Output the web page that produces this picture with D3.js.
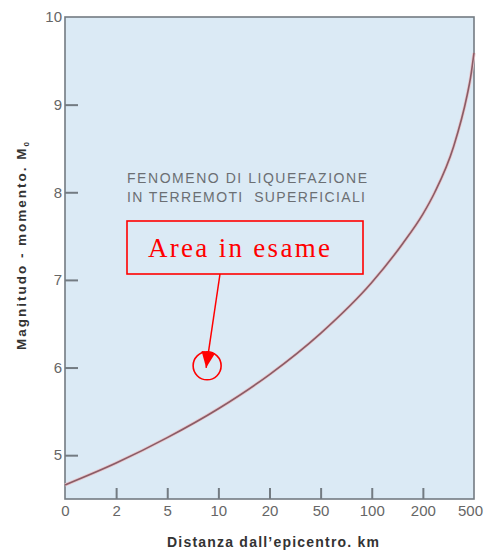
<!DOCTYPE html>
<html>
<head>
<meta charset="utf-8">
<script src="https://cdn.jsdelivr.net/npm/d3@7"></script>
<style>
body { margin: 0; background: #fff; }
text { font-family: "Liberation Sans", Arial, sans-serif; }
</style>
</head>
<body>
<svg id="chart" width="484" height="551"></svg>
<script>
// curve (distance km, magnitude)
var distances = [0, 2, 5, 10, 20, 50, 100, 160, 200, 270, 380, 460, 480, 500];
var magnitudes = [4.66, 4.91, 5.20, 5.53, 5.92, 6.39, 6.97, 7.41, 7.75, 8.00, 8.52, 9.11, 9.31, 9.59];

var xTicks = [0, 2, 5, 10, 20, 50, 100, 200, 500];
var yTicks = [5, 6, 7, 8, 9, 10];

var note = ["FENOMENO DI LIQUEFAZIONE", "IN TERREMOTI  SUPERFICIALI"];
var callout = "Area in esame";
var target = {d: 8.9, m: 6.02};

var margin = {top: 17, right: 10, bottom: 52, left: 65};
var width = 484 - margin.left - margin.right,
	height = 551 - margin.top - margin.bottom;

var svg = d3.select("#chart");
var g = svg.append("g").attr("transform", "translate(" + margin.left + "," + margin.top + ")");

// the distance axis is evenly spaced between labelled values
var x = d3.scaleLinear()
	.domain(xTicks)
	.range(xTicks.map(function(d, i){ return i * width / (xTicks.length - 1); }));

var y = d3.scaleLinear()
	.domain([4.5, 10])
	.range([height, 0]);

var axisColor = "#737b82";

g.append("rect")
	.attr("width", width)
	.attr("height", height)
	.attr("fill", "#dbeaf5");

// ticks drawn inside the frame
var xAxis = d3.axisBottom(x)
	.tickValues(xTicks)
	.tickSize(-11)
	.tickPadding(6)
	.tickFormat(d3.format("d"));

var gx = g.append("g")
	.attr("transform", "translate(0," + height + ")")
	.call(xAxis);
gx.select(".domain").remove();
gx.selectAll(".tick line")
	.attr("stroke", axisColor)
	.attr("stroke-width", 2)
	.attr("opacity", function(d){ return (d == 0 || d == 500) ? 0 : 1; });
gx.selectAll(".tick text")
	.attr("fill", "#666")
	.attr("dx", function(d){ return d == 500 ? -4 : 0; })
	.style("font-size", "15px");

var yAxis = d3.axisLeft(y)
	.tickValues(yTicks)
	.tickSize(-13)
	.tickPadding(3)
	.tickFormat(d3.format("d"));

var gy = g.append("g").call(yAxis);
gy.select(".domain").remove();
gy.selectAll(".tick line")
	.attr("stroke", axisColor)
	.attr("stroke-width", 2)
	.attr("opacity", function(d){ return d == 10 ? 0 : 1; });
gy.selectAll(".tick text")
	.attr("fill", "#666")
	.style("font-size", "15px");

g.append("rect")
	.attr("width", width)
	.attr("height", height)
	.attr("fill", "none")
	.attr("stroke", axisColor)
	.attr("stroke-width", 1.6);

var line = d3.line()
	.x(function(d, i){ return x(distances[i]); })
	.y(function(d){ return y(d); })
	.curve(d3.curveMonotoneX);

g.append("path")
	.datum(magnitudes)
	.attr("d", line)
	.attr("fill", "none")
	.attr("stroke", "#e8c6cc")
	.attr("stroke-width", 3.2);
g.append("path")
	.datum(magnitudes)
	.attr("d", line)
	.attr("fill", "none")
	.attr("stroke", "#8a5c66")
	.attr("stroke-width", 1.6);

// text note
g.append("text")
	.attr("x", 62)
	.attr("y", 166)
	.attr("fill", "#6b6f73")
	.style("font-size", "14px")
	.selectAll("tspan")
	.data(note)
	.enter()
	.append("tspan")
	.attr("x", 62)
	.attr("dy", function(d, i){ return i ? 19 : 0; })
	.attr("textLength", function(d, i){ return i ? 238 : 240; })
	.style("white-space", "pre")
	.text(function(d){ return d; });

// callout box with arrow
var red = "#ff0000";
var box = {x: 62, y: 204, w: 236, h: 53};
g.append("rect")
	.attr("x", box.x)
	.attr("y", box.y)
	.attr("width", box.w)
	.attr("height", box.h)
	.attr("fill", "none")
	.attr("stroke", red)
	.attr("stroke-width", 1.6);

g.append("text")
	.attr("x", 83)
	.attr("y", 240)
	.attr("fill", red)
	.attr("textLength", 182)
	.style("font-family", "'Liberation Serif', 'Times New Roman', serif")
	.style("font-size", "27px")
	.text(callout);

var tx = x(target.d), ty = y(target.m);
svg.append("defs").append("marker")
	.attr("id", "head")
	.attr("viewBox", "0 0 16 14")
	.attr("refX", 16)
	.attr("refY", 7)
	.attr("markerWidth", 16)
	.attr("markerHeight", 14)
	.attr("markerUnits", "userSpaceOnUse")
	.attr("orient", "auto")
	.append("path")
	.attr("d", "M0,0L16,7L0,14Z")
	.attr("fill", red);

g.append("line")
	.attr("x1", 155)
	.attr("y1", box.y + box.h)
	.attr("x2", tx - 1)
	.attr("y2", ty + 2)
	.attr("stroke", red)
	.attr("stroke-width", 1.5)
	.attr("marker-end", "url(#head)");

g.append("circle")
	.attr("cx", tx)
	.attr("cy", ty)
	.attr("r", 14)
	.attr("fill", "none")
	.attr("stroke", red)
	.attr("stroke-width", 1.6);

// axis titles
svg.append("text")
	.attr("transform", "translate(26,246) rotate(-90)")
	.attr("text-anchor", "middle")
	.attr("textLength", 208)
	.attr("fill", "#333")
	.style("font-size", "13.5px")
	.style("font-weight", "bold")
	.text("Magnitudo - momento. M")
	.append("tspan")
	.attr("dy", 3)
	.style("font-size", "8px")
	.text("0");

svg.append("text")
	.attr("x", 273)
	.attr("y", 547)
	.attr("text-anchor", "middle")
	.attr("textLength", 212)
	.attr("fill", "#333")
	.style("font-size", "14px")
	.style("font-weight", "bold")
	.text("Distanza dall\u2019epicentro. km");
</script>
</body>
</html>
